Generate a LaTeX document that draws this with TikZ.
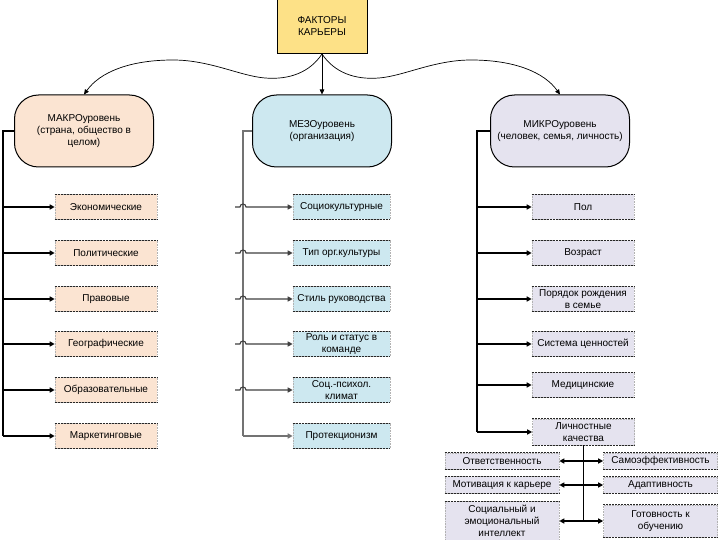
\documentclass[tikz,border=0pt]{standalone}
\usepackage{fontspec}
\setmainfont{Liberation Sans}
\usetikzlibrary{arrows.meta}
\definecolor{cyel}{RGB}{253,225,135}
\definecolor{cpeach}{RGB}{251,228,210}
\definecolor{cblue}{RGB}{205,232,240}
\definecolor{clav}{RGB}{229,227,239}
\begin{document}
\begin{tikzpicture}[x=1pt,y=-1pt,
  font=\fontsize{10}{12.3}\selectfont,
  level/.style={draw, line width=1pt, rounded corners=24pt, minimum width=139pt, minimum height=72pt, align=center, inner sep=2pt},
  fbox/.style={draw=gray!60, densely dotted, line width=0.6pt, minimum height=25pt, inner sep=1pt, align=center},
  bline/.style={line width=1.2pt, black!85, dash pattern=on 2.2pt off 0.8pt},
  tip/.style={-{Triangle[length=5pt,width=5pt]}},
  dtip/.style={{Triangle[length=5pt,width=5pt]}-{Triangle[length=5pt,width=5pt]}},
  curve/.style={line width=0.7pt, -{Triangle[length=5pt,width=4.5pt]}},
  macl/.style={line width=1.4pt, black},
  mesl/.style={line width=1.3pt, black!55},
  mesc/.style={line width=1.1pt, black!75},
  micl/.style={line width=1.3pt, black}
]
\useasboundingbox (0,0) rectangle (720,540);
\fill[white] (0,0) rectangle (720,540);

% top
\node[draw, line width=1pt, fill=cyel, minimum width=90pt, minimum height=55pt, align=center] (top) at (322,26) {ФАКТОРЫ\\КАРЬЕРЫ};

% levels
\node[level, fill=cpeach] (macro) at (84,131) {МАКРОуровень\\(страна, общество в\\целом)};
\node[level, fill=cblue] (meso) at (322,131) {МЕЗОуровень\\(организация)};
\node[level, fill=clav] (micro) at (560,131) {МИКРОуровень\\(человек, семья, личность)};

% top arrows
\draw[curve] (top.south) -- (meso.north);
\draw[curve] (top.south) .. controls (310,72) and (290,80) .. (265,78)
  .. controls (240,76) and (210,60) .. (173,60)
  .. controls (130,60) and (100,72) .. (macro.north);
\draw[curve] (top.south) .. controls (334,72) and (354,80) .. (379,78)
  .. controls (404,76) and (434,60) .. (471,60)
  .. controls (514,60) and (544,72) .. (micro.north);

% macro factors
\begin{scope}[every node/.style={fbox, fill=cpeach, minimum width=102pt}]
\node (a1) at (106,207) {Экономические};
\node (a2) at (106,253) {Политические};
\node (a3) at (106,299) {Правовые};
\node (a4) at (106,344) {Географические};
\node (a5) at (106,390) {Образовательные};
\node (a6) at (106,436) {Маркетинговые};
\end{scope}

% meso factors
\begin{scope}[every node/.style={fbox, fill=cblue, minimum width=97pt}]
\node (b1) at (341.5,207) {Социокультурные};
\node (b2) at (341.5,253) {Тип орг.культуры};
\node (b3) at (341.5,299) {Стиль руководства};
\node (b4) at (341.5,344) {Роль и статус в\\команде};
\node (b5) at (341.5,390) {Соц.-психол.\\климат};
\node (b6) at (341.5,436) {Протекционизм};
\end{scope}

% micro factors
\begin{scope}[every node/.style={fbox, fill=clav, minimum width=102pt}]
\node (c1) at (583,207) {Пол};
\node (c2) at (583,253) {Возраст};
\node (c3) at (583,299) {Порядок рождения\\в семье};
\node (c4) at (583,344) {Система ценностей};
\node (c5) at (583,385) {Медицинские};
\node[minimum height=26pt] (pq) at (583.5,432) {Личностные\\качества};
\end{scope}

% personal qualities
\begin{scope}[every node/.style={fbox, fill=clav, minimum width=114pt}]
\node[minimum height=16pt] (l1) at (502,461) {Ответственность};
\node[minimum height=17pt] (l2) at (502,485) {Мотивация к карьере};
\node[minimum height=39pt] (l3) at (502,521) {Социальный и\\эмоциональный\\интеллект};
\node[minimum height=16pt] (r1) at (660.5,461) {Самоэффективность};
\node[minimum height=16pt] (r2) at (660.5,485) {Адаптивность};
\node[minimum height=32pt] (r3) at (660.5,521) {Готовность к\\обучению};
\end{scope}

% box top/bottom borders
\foreach \n in {a1,a2,a3,a4,a5,a6,b1,b2,b3,b4,b5,b6,c1,c2,c3,c4,c5,pq,l1,l2,l3,r1,r2,r3}
  \draw[bline] (\n.north west) -- (\n.north east) (\n.south west) -- (\n.south east);

% macro connectors
\coordinate (abus) at (3,436);
\draw[line width=1.8pt] (macro.west) -| (abus);
\foreach \n in {a1,a2,a3,a4,a5,a6}
  \draw[macl, tip] (\n.west -| abus) -- (\n.west);

% meso connectors
\coordinate (bbus) at (243,436);
\coordinate (bstart) at (235,436);
\draw[mesl] (meso.west) -| (bbus);
\draw[mesl, tip] (bbus) -- (b6.west);
\foreach \n in {b1,b2,b3,b4,b5}
  \draw[mesc, tip] (\n.west -| bstart) -- ++(5,0) arc[start angle=180, end angle=0, radius=3pt] -- (\n.west);

% micro connectors
\coordinate (cbus) at (477,432);
\draw[micl] (micro.west) -| (cbus);
\draw[micl, tip] (cbus) -- (pq.west);
\foreach \n in {c1,c2,c3,c4,c5}
  \draw[micl, tip] (\n.west -| cbus) -- (\n.west);

% personal qualities connectors
\draw[micl] (pq.south) -- (pq.south |- l3.east);
\draw[micl, dtip] (l1.east) -- (r1.west);
\draw[micl, dtip] (l2.east) -- (r2.west);
\draw[micl, dtip] (l3.east) -- (r3.west);
\end{tikzpicture}
\end{document}
